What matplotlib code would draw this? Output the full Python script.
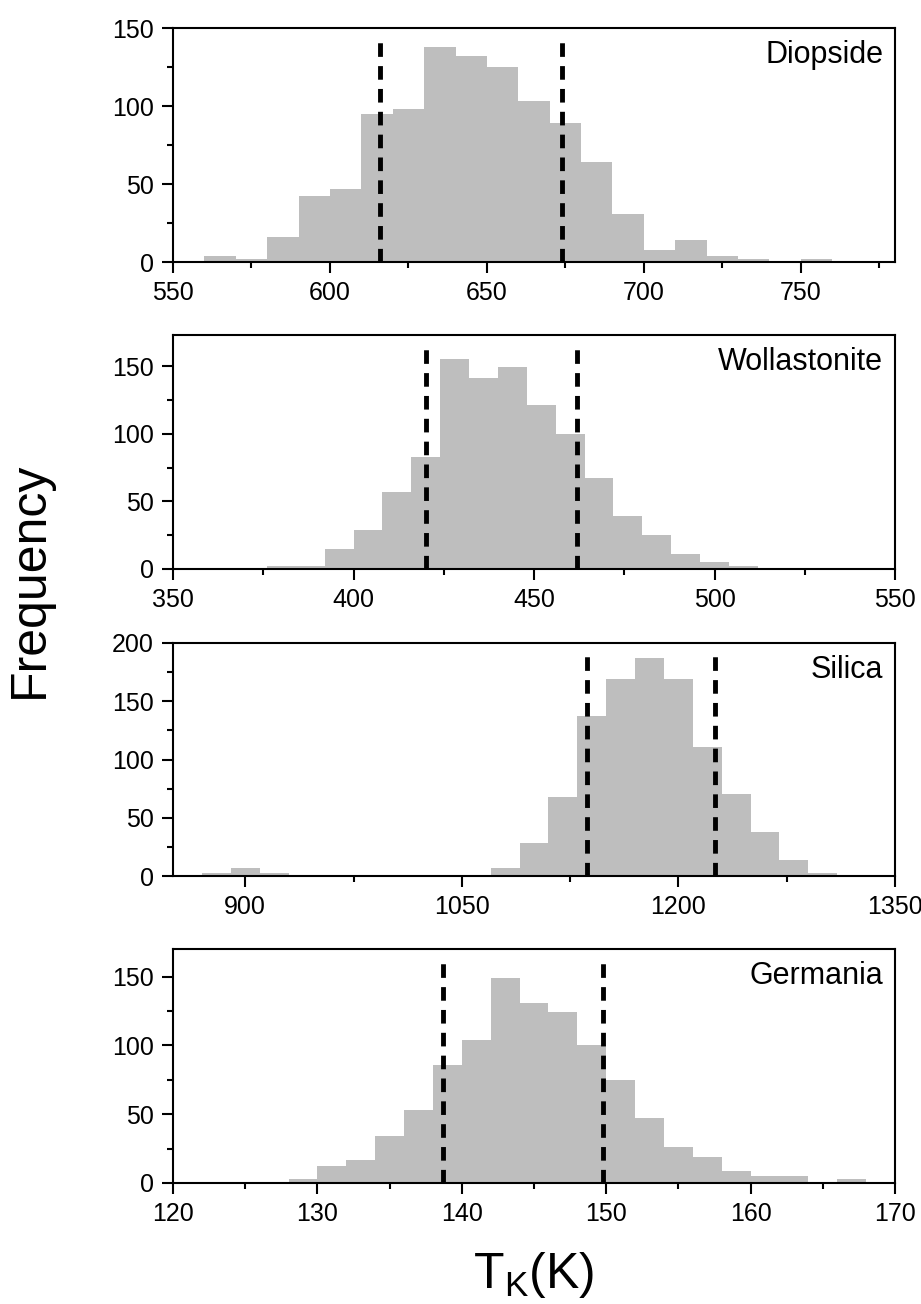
#!/usr/bin/env python3
"""
Four stacked histograms of T_K for Diopside, Wollastonite, Silica and Germania,
each with two dashed reference lines.
"""

import numpy as np
import matplotlib
matplotlib.use("Agg")
import matplotlib.pyplot as plt
from matplotlib.ticker import MultipleLocator

plt.rcParams['font.family'] = ['Liberation Sans', 'DejaVu Sans']
plt.rcParams['mathtext.fontset'] = 'custom'
plt.rcParams['mathtext.rm'] = 'Liberation Sans'

# =============================================================================
# Data
# =============================================================================

NAMES = ["Diopside", "Wollastonite", "Silica", "Germania"]

# bin start, bin width, counts
DIOP_START, DIOP_WIDTH = 560, 10
DIOP_COUNTS = [4, 2, 16, 42, 47, 95, 98, 138, 132, 125, 103, 89, 64, 31, 8, 14,
               4, 2, 0, 2]
DIOP_LINES = [616, 674]

WOLL_START, WOLL_WIDTH = 376, 8
WOLL_COUNTS = [2, 2, 15, 29, 57, 83, 155, 141, 149, 121, 100, 67, 39, 25, 11, 5, 2]
WOLL_LINES = [420, 462]

SIL_START, SIL_WIDTH = 870, 20
SIL_COUNTS = [3, 7, 3, 0, 0, 0, 0, 0, 0, 0, 7, 28, 68, 137, 169, 187, 169, 111,
              70, 38, 14, 3]
SIL_LINES = [1137, 1225]

GER_START, GER_WIDTH = 128, 2
GER_COUNTS = [3, 12, 17, 34, 53, 86, 104, 149, 131, 124, 100, 75, 47, 26, 19, 9,
              5, 5, 0, 3]
GER_LINES = [138.7, 149.8]

LINE_TOPS = [143, 165, 192, 160]

XLIMS = [(550, 780), (350, 550), (850, 1350), (120, 170)]
YLIMS = [(0, 150), (0, 173), (0, 200), (0, 170)]
X_MAJOR = [50, 50, 150, 10]

PANELS = [
    (DIOP_START, DIOP_WIDTH, DIOP_COUNTS, DIOP_LINES),
    (WOLL_START, WOLL_WIDTH, WOLL_COUNTS, WOLL_LINES),
    (SIL_START, SIL_WIDTH, SIL_COUNTS, SIL_LINES),
    (GER_START, GER_WIDTH, GER_COUNTS, GER_LINES),
]

# =============================================================================
# Layout (pixel positions of the reference)
# =============================================================================

W, H = 921, 1304
LEFT, RIGHT = 173, 895
PANEL_PX = [(28, 262), (335, 569), (643, 876), (949, 1183)]

BAR_COLOR = "#bebebe"
FONT_TICK = 18
FONT_NAME = 22
FONT_AXIS = 36

fig = plt.figure(figsize=(W / 100, H / 100), dpi=100)

for i, (start, width, counts, lines) in enumerate(PANELS):
    top, bot = PANEL_PX[i]
    ax = fig.add_axes([LEFT / W, 1 - bot / H, (RIGHT - LEFT) / W, (bot - top) / H])

    counts = np.array(counts)
    edges = start + width * np.arange(len(counts))
    ax.bar(edges, counts, width=width, align='edge', color=BAR_COLOR,
           linewidth=0, zorder=1)

    ax.vlines(lines, 0, LINE_TOPS[i], colors='black', linewidth=3.5,
              linestyles=(0, (2.8, 1.9)), zorder=3)

    ax.set_xlim(*XLIMS[i])
    ax.set_ylim(*YLIMS[i])
    ax.xaxis.set_major_locator(MultipleLocator(X_MAJOR[i]))
    ax.xaxis.set_minor_locator(MultipleLocator(X_MAJOR[i] / 2))
    ax.yaxis.set_major_locator(MultipleLocator(50))
    ax.yaxis.set_minor_locator(MultipleLocator(25))

    ax.tick_params(which='major', direction='out', length=8, width=1.5,
                   labelsize=FONT_TICK, pad=6)
    ax.tick_params(which='minor', direction='out', length=4.5, width=1.5)
    for spine in ax.spines.values():
        spine.set_linewidth(1.5)
        spine.set_zorder(4)

    ax.text(1 - 12 / (RIGHT - LEFT), 1 - 12 / (bot - top), NAMES[i],
            transform=ax.transAxes, ha='right', va='top', fontsize=FONT_NAME)

fig.text(30 / W, 1 - 580 / H, "Frequency", rotation=90, ha='center',
         va='center', fontsize=FONT_AXIS)
fig.text((LEFT + RIGHT) / 2 / W, 1 - 1275 / H, r"T$_\mathregular{K}$(K)",
         ha='center', va='center', fontsize=FONT_AXIS)

fig.savefig("out.png", dpi=100)
